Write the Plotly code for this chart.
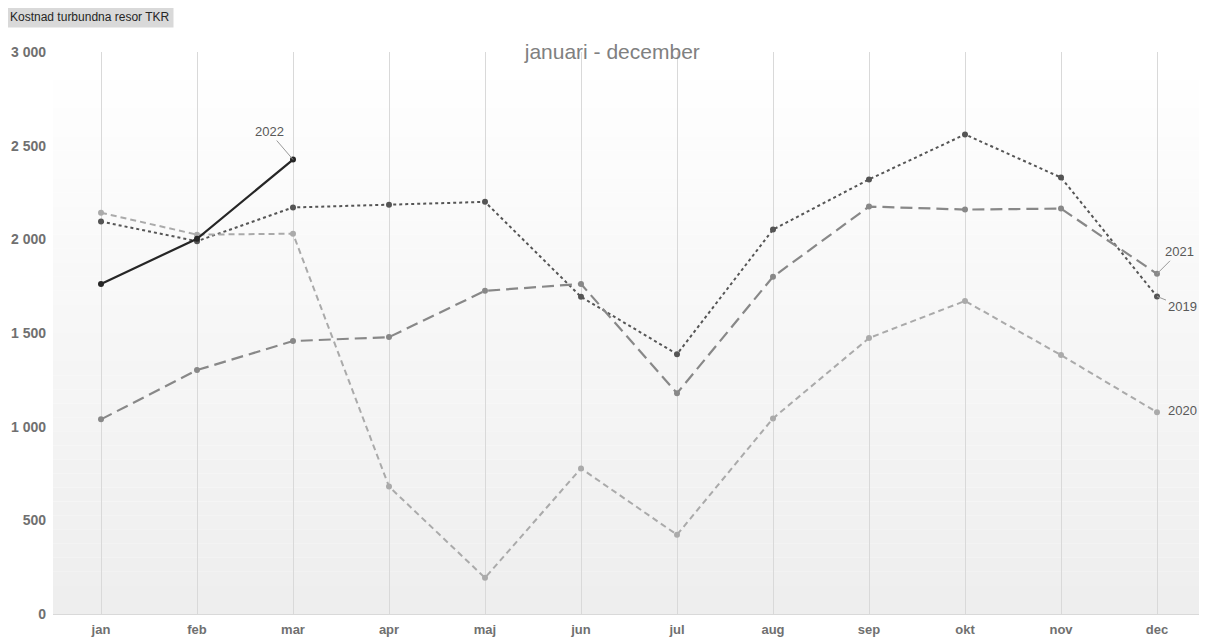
import plotly.graph_objects as go

months = ["jan", "feb", "mar", "apr", "maj", "jun", "jul", "aug", "sep", "okt", "nov", "dec"]
y2019 = [2095, 1990, 2170, 2185, 2200, 1693, 1387, 2052, 2320, 2560, 2330, 1695]
y2020 = [2142, 2025, 2030, 680, 193, 777, 423, 1044, 1473, 1671, 1382, 1077]
y2021 = [1039, 1302, 1457, 1478, 1725, 1762, 1178, 1800, 2175, 2159, 2164, 1816]
y2022 = [1762, 2003, 2426]
y_ticks = [0, 500, 1000, 1500, 2000, 2500, 3000]
y_ticktext = ["0", "500", "1 000", "1 500", "2 000", "2 500", "3 000"]

fig = go.Figure()

fig.add_trace(go.Scatter(x=months, y=y2019, name="2019", mode="lines+markers",
                         line=dict(color="#555555", width=2, dash="dot"),
                         marker=dict(size=6, color="#555555")))
fig.add_trace(go.Scatter(x=months, y=y2020, name="2020", mode="lines+markers",
                         line=dict(color="#aaaaaa", width=2, dash="6px,4px"),
                         marker=dict(size=6, color="#aaaaaa")))
fig.add_trace(go.Scatter(x=months, y=y2021, name="2021", mode="lines+markers",
                         line=dict(color="#888888", width=2.2, dash="12px,6px"),
                         marker=dict(size=6, color="#888888")))
fig.add_trace(go.Scatter(x=months[:len(y2022)], y=y2022, name="2022", mode="lines+markers",
                         line=dict(color="#262626", width=2.2),
                         marker=dict(size=6, color="#262626")))

# background gradient (white top -> light gray bottom)
shapes = []
n = 40
for i in range(n):
    t = i / (n - 1)
    v = int(round(255 - 17 * t))
    shapes.append(dict(type="rect", xref="paper", yref="paper",
                       x0=0, x1=1, y0=1 - (i + 1) / n, y1=1 - i / n,
                       fillcolor=f"rgb({v},{v},{v})", line=dict(width=0), layer="below"))
fig.update_layout(shapes=shapes)

ann_font = dict(family="Arial", size=13, color="#595959")
fig.add_annotation(x="mar", y=y2022[2], text="2022", showarrow=True, arrowhead=0,
                   arrowcolor="#999999", arrowwidth=1, ax=-24, ay=-28, font=ann_font)
fig.add_annotation(x="dec", y=y2021[11], text="2021", showarrow=True, arrowhead=0,
                   arrowcolor="#999999", arrowwidth=1, ax=22, ay=-22, font=ann_font)
fig.add_annotation(x="dec", y=y2019[11], text="2019", showarrow=True, arrowhead=0,
                   arrowcolor="#999999", arrowwidth=1, ax=25, ay=10, font=ann_font)
fig.add_annotation(x="dec", y=y2020[11], text="2020", showarrow=False,
                   xshift=25, yshift=2, font=ann_font)

fig.add_annotation(xref="paper", yref="paper", x=-0.041, y=1.0, yshift=24,
                   xanchor="left", yanchor="bottom", text="Kostnad turbundna resor TKR",
                   showarrow=False, bgcolor="#d9d9d9", borderpad=3,
                   font=dict(family="Arial", size=12, color="#262626"))

# page body has an 8px margin: figure drawn at (8,8)
fig.update_layout(
    width=1199, height=629,
    margin=dict(l=45, r=2, t=44, b=23),
    paper_bgcolor="white", plot_bgcolor="white",
    showlegend=False,
    title=dict(text="januari - december", x=0.504, xanchor="center", y=0.93, yanchor="middle",
               font=dict(family="Arial", size=21, color="#808080")),
    xaxis=dict(type="category", categoryorder="array", categoryarray=months,
               range=[-0.5, 11.5], showgrid=True, gridcolor="#d9d9d9", gridwidth=1,
               showline=True, linecolor="#d9d9d9", linewidth=1, ticks="", automargin=False,
               ticklabelstandoff=3,
               tickfont=dict(family="Arial", size=13, color="#707070", weight="bold"),
               fixedrange=True),
    yaxis=dict(range=[0, 3000], tickvals=y_ticks, ticktext=y_ticktext, showgrid=False,
               zeroline=False, showline=False, ticks="", automargin=False,
               ticklabelstandoff=6,
               tickfont=dict(family="Arial", size=14, color="#707070", weight="bold")),
)

fig.write_html("out.html")
